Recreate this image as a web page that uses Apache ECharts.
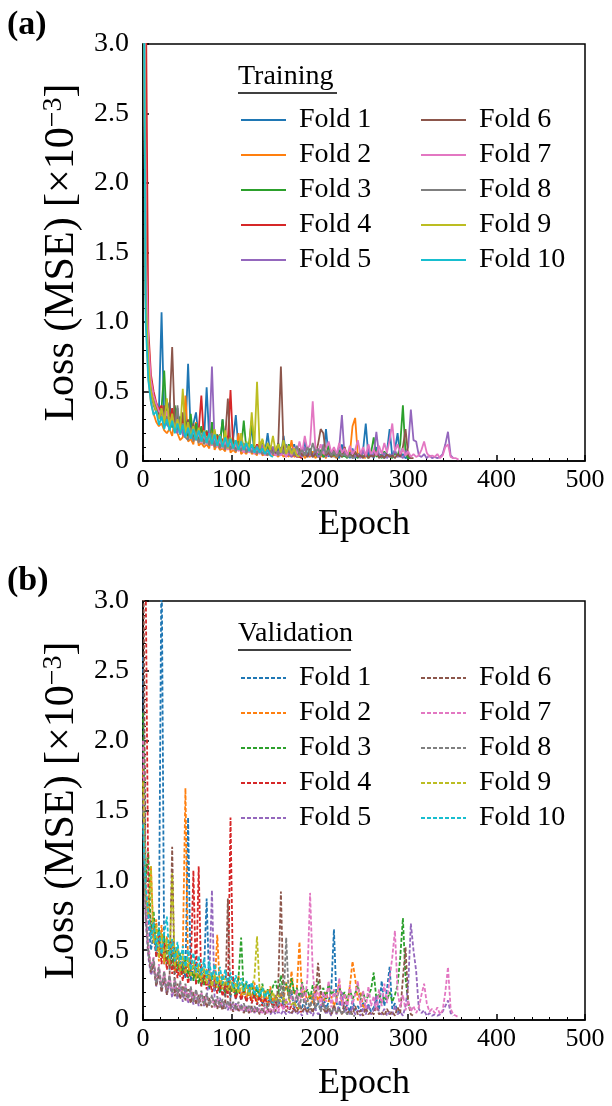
<!DOCTYPE html>
<html>
<head>
<meta charset="utf-8">
<script src="https://cdn.jsdelivr.net/npm/echarts@6.0.0/dist/echarts.min.js"></script>
<style>
html,body{margin:0;padding:0;background:#fff;}
#chart{width:612px;height:1106px;}
</style>
</head>
<body>
<div id="chart"></div>
<script>
// ---- data (loss values sampled every EPOCH_STEP epochs, x10^-3) ----
const EPOCH_STEP = 3;
const foldNames = ['Fold 1','Fold 2','Fold 3','Fold 4','Fold 5','Fold 6','Fold 7','Fold 8','Fold 9','Fold 10'];
const xTicks = [0, 100, 200, 300, 400, 500];
const yTicks = [0, 0.5, 1.0, 1.5, 2.0, 2.5, 3.0];

const train1 = [5.0,1.3,0.75,0.55,0.45,0.40,0.36,1.07,0.30,0.36,0.42,0.26,0.33,0.38,0.20,0.31,0.19,0.70,0.20,0.27,0.35,0.15,0.24,0.14,0.53,0.15,0.22,0.13,0.19,0.12,0.30,0.11,0.17,0.10,0.16,0.33,0.09,0.14,0.08,0.12,0.07,0.25,0.07,0.11,0.06,0.15,0.06,0.20,0.05,0.10,0.05,0.09,0.04,0.18,0.04,0.07,0.04,0.12,0.04,0.06,0.03,0.15,0.03,0.06,0.03,0.10,0.03,0.05,0.03,0.23,0.03,0.07,0.03,0.05,0.02,0.12,0.03,0.06,0.02,0.09,0.02,0.05,0.03,0.08,0.27,0.03,0.06,0.02,0.10,0.03,0.05,0.02,0.07,0.23,0.03,0.08,0.20,0.03,0.05,0.02,0.03];
const train2 = [4.5,1.1,0.6,0.42,0.34,0.28,0.25,0.27,0.22,0.20,0.23,0.18,0.32,0.20,0.15,0.17,0.47,0.14,0.16,0.12,0.28,0.11,0.13,0.10,0.12,0.09,0.24,0.08,0.12,0.08,0.09,0.07,0.18,0.06,0.08,0.06,0.20,0.05,0.07,0.05,0.11,0.05,0.06,0.04,0.14,0.04,0.05,0.04,0.08,0.04,0.05,0.03,0.06,0.03,0.05,0.03,0.15,0.03,0.04,0.03,0.06,0.02,0.04,0.03,0.07,0.02,0.04,0.03,0.05,0.02,0.08,0.03,0.04,0.02,0.06,0.03,0.10,0.03,0.05,0.25,0.31,0.04,0.06,0.03,0.02];
const train3 = [5.5,1.4,0.8,0.56,0.46,0.40,0.35,0.38,0.65,0.26,0.36,0.24,0.40,0.22,0.32,0.20,0.29,0.18,0.34,0.16,0.27,0.15,0.25,0.14,0.22,0.13,0.28,0.12,0.19,0.11,0.30,0.10,0.18,0.09,0.16,0.08,0.14,0.09,0.29,0.08,0.13,0.29,0.07,0.12,0.06,0.15,0.06,0.11,0.05,0.10,0.05,0.13,0.05,0.08,0.04,0.12,0.04,0.07,0.04,0.09,0.03,0.06,0.04,0.09,0.03,0.05,0.03,0.08,0.03,0.04,0.11,0.03,0.05,0.03,0.08,0.03,0.04,0.02,0.06,0.03,0.05,0.02,0.07,0.03,0.04,0.02,0.06,0.17,0.03,0.05,0.02,0.07,0.03,0.04,0.02,0.06,0.03,0.12,0.40,0.05,0.02,0.02];
const train4 = [6.0,3.6,0.95,0.62,0.50,0.42,0.37,0.40,0.30,0.36,0.27,0.38,0.24,0.32,0.21,0.30,0.19,0.26,0.18,0.25,0.16,0.22,0.47,0.15,0.21,0.13,0.20,0.12,0.18,0.11,0.16,0.10,0.15,0.51,0.10,0.14,0.09,0.13,0.08,0.11,0.07,0.10,0.06,0.12,0.06,0.09,0.05,0.08,0.05,0.10,0.04,0.07,0.04,0.08,0.03,0.06,0.03,0.05,0.03,0.03,0.02];
const train5 = [4.8,1.2,0.7,0.5,0.42,0.37,0.33,0.30,0.38,0.26,0.24,0.33,0.22,0.20,0.30,0.19,0.17,0.28,0.16,0.25,0.15,0.23,0.14,0.20,0.13,0.18,0.68,0.13,0.11,0.19,0.10,0.16,0.09,0.15,0.09,0.13,0.08,0.17,0.07,0.12,0.07,0.10,0.06,0.11,0.06,0.12,0.05,0.08,0.05,0.10,0.04,0.07,0.04,0.09,0.04,0.05,0.03,0.07,0.03,0.05,0.03,0.10,0.03,0.05,0.03,0.08,0.03,0.04,0.12,0.03,0.05,0.03,0.07,0.03,0.10,0.33,0.04,0.06,0.03,0.08,0.03,0.05,0.02,0.07,0.03,0.09,0.03,0.05,0.21,0.04,0.03,0.06,0.02,0.05,0.03,0.08,0.03,0.04,0.02,0.06,0.10,0.37,0.15,0.14,0.04,0.03,0.05,0.02,0.04,0.02,0.03,0.02,0.03,0.05,0.12,0.21,0.04,0.02];
const train6 = [5.2,1.25,0.72,0.52,0.43,0.38,0.34,0.31,0.40,0.27,0.36,0.82,0.26,0.34,0.22,0.35,0.20,0.30,0.18,0.27,0.16,0.24,0.15,0.22,0.14,0.20,0.13,0.21,0.12,0.19,0.11,0.17,0.45,0.10,0.15,0.09,0.13,0.08,0.11,0.07,0.12,0.07,0.09,0.06,0.10,0.05,0.08,0.05,0.11,0.05,0.06,0.12,0.68,0.10,0.05,0.08,0.04,0.06,0.04,0.09,0.04,0.05,0.03,0.08,0.03,0.05,0.12,0.23,0.20,0.04,0.06,0.03,0.08,0.03,0.05,0.03,0.10,0.03,0.05,0.03,0.07,0.03,0.04,0.02,0.06,0.02,0.04,0.03,0.07,0.02,0.04,0.02,0.05,0.03,0.04,0.02,0.05,0.03,0.10,0.23,0.04,0.02,0.02];
const train7 = [7.0,1.6,0.85,0.58,0.47,0.41,0.36,0.33,0.28,0.36,0.25,0.31,0.23,0.29,0.20,0.27,0.18,0.24,0.16,0.22,0.15,0.20,0.13,0.19,0.12,0.17,0.11,0.18,0.10,0.15,0.09,0.14,0.08,0.13,0.08,0.12,0.07,0.11,0.06,0.10,0.06,0.09,0.05,0.09,0.05,0.08,0.04,0.07,0.04,0.06,0.04,0.05,0.04,0.06,0.03,0.08,0.04,0.10,0.05,0.14,0.06,0.18,0.08,0.12,0.43,0.10,0.06,0.12,0.05,0.09,0.14,0.06,0.10,0.05,0.13,0.06,0.09,0.04,0.11,0.05,0.08,0.15,0.05,0.10,0.04,0.12,0.05,0.08,0.04,0.11,0.05,0.13,0.06,0.15,0.27,0.07,0.12,0.05,0.09,0.04,0.07,0.03,0.05,0.03,0.04,0.08,0.14,0.06,0.03,0.04,0.03,0.05,0.02,0.04,0.10,0.12,0.03,0.02,0.02,0.01];
const train8 = [4.6,1.15,0.66,0.48,0.40,0.35,0.31,0.36,0.26,0.32,0.23,0.30,0.21,0.40,0.19,0.27,0.17,0.15,0.24,0.14,0.21,0.13,0.19,0.12,0.17,0.11,0.20,0.10,0.15,0.09,0.14,0.08,0.16,0.08,0.12,0.07,0.11,0.07,0.13,0.06,0.10,0.06,0.09,0.05,0.10,0.05,0.07,0.04,0.09,0.05,0.08,0.04,0.10,0.05,0.12,0.06,0.09,0.04,0.11,0.05,0.08,0.04,0.10,0.05,0.13,0.06,0.09,0.04,0.11,0.05,0.08,0.04,0.07,0.03,0.06,0.04,0.05,0.03,0.04,0.02,0.03];
const train9 = [5.0,1.2,0.7,0.5,0.42,0.36,0.30,0.38,0.27,0.45,0.24,0.34,0.22,0.30,0.21,0.52,0.19,0.28,0.17,0.25,0.15,0.24,0.14,0.22,0.13,0.20,0.12,0.23,0.11,0.19,0.10,0.22,0.09,0.17,0.09,0.15,0.08,0.20,0.08,0.14,0.09,0.35,0.10,0.57,0.09,0.16,0.07,0.13,0.08,0.18,0.07,0.12,0.06,0.15,0.05,0.11,0.05,0.09,0.04,0.03];
const train10 = [4.8,1.0,0.58,0.42,0.33,0.36,0.26,0.32,0.23,0.30,0.22,0.29,0.20,0.27,0.19,0.26,0.17,0.24,0.16,0.23,0.15,0.22,0.14,0.21,0.13,0.20,0.12,0.19,0.11,0.18,0.10,0.17,0.10,0.16,0.09,0.15,0.08,0.14,0.08,0.13,0.07,0.12,0.06,0.10,0.06,0.09,0.05,0.08,0.04,0.03];

const val1 = [2.6,0.95,0.70,0.50,0.62,0.45,0.58,3.4,0.40,0.55,0.36,0.50,0.33,0.47,0.31,0.42,0.30,1.45,0.28,0.40,0.26,0.37,0.24,0.34,0.87,0.22,0.32,0.20,0.30,0.19,0.28,0.17,0.26,0.16,0.31,0.15,0.24,0.14,0.22,0.13,0.26,0.12,0.20,0.11,0.21,0.11,0.18,0.10,0.22,0.10,0.16,0.09,0.19,0.09,0.15,0.08,0.20,0.08,0.14,0.09,0.09,0.15,0.08,0.11,0.14,0.08,0.12,0.07,0.18,0.08,0.13,0.22,0.65,0.12,0.08,0.16,0.07,0.11,0.06,0.14,0.07,0.10,0.06,0.13,0.07,0.11,0.06,0.09,0.15,0.07,0.28,0.10,0.22,0.38,0.08,0.12,0.06,0.05];
const val2 = [1.8,0.9,0.75,1.10,0.55,0.72,0.42,0.68,0.40,0.60,0.37,0.58,0.34,0.52,0.32,0.48,1.66,0.33,0.45,0.30,0.42,0.27,0.40,0.25,0.37,0.23,0.34,0.22,0.61,0.21,0.33,0.19,0.30,0.18,0.28,0.17,0.32,0.16,0.26,0.15,0.24,0.14,0.27,0.13,0.23,0.13,0.21,0.12,0.24,0.13,0.18,0.13,0.20,0.14,0.27,0.15,0.35,0.18,0.22,0.56,0.16,0.21,0.13,0.19,0.12,0.24,0.14,0.18,0.11,0.20,0.13,0.17,0.10,0.15,0.28,0.12,0.19,0.11,0.24,0.42,0.30,0.14,0.20,0.10,0.08];
const val3 = [2.2,1.0,1.2,0.62,0.78,0.50,0.66,0.45,0.60,0.40,0.56,0.38,0.52,0.35,0.48,0.33,0.45,0.30,0.42,0.28,0.40,0.26,0.37,0.25,0.35,0.23,0.33,0.22,0.31,0.20,0.30,0.19,0.28,0.18,0.26,0.17,0.30,0.59,0.19,0.27,0.17,0.25,0.16,0.23,0.15,0.26,0.16,0.22,0.14,0.24,0.28,0.18,0.32,0.20,0.26,0.17,0.30,0.19,0.23,0.16,0.27,0.18,0.22,0.15,0.25,0.17,0.28,0.19,0.23,0.15,0.26,0.18,0.21,0.14,0.24,0.16,0.20,0.13,0.22,0.15,0.19,0.25,0.14,0.20,0.13,0.18,0.22,0.34,0.15,0.19,0.12,0.17,0.14,0.20,0.13,0.18,0.25,0.45,0.73,0.30,0.12,0.08];
const val4 = [4.5,3.2,0.9,0.58,0.70,0.45,0.62,0.40,0.55,0.36,0.50,0.33,0.47,0.30,0.42,0.28,0.40,0.26,0.36,1.07,0.25,1.10,0.24,0.33,0.22,0.31,0.20,0.29,0.19,0.27,0.17,0.26,0.16,1.45,0.22,0.15,0.23,0.14,0.20,0.13,0.19,0.12,0.18,0.11,0.17,0.10,0.16,0.10,0.15,0.09,0.13,0.09,0.12,0.08,0.11,0.07,0.10,0.07,0.09,0.06,0.06];
const val5 = [1.6,0.7,0.45,0.32,0.38,0.24,0.33,0.20,0.30,0.18,0.27,0.16,0.26,0.15,0.24,0.13,0.22,0.12,0.21,0.11,0.19,0.10,0.18,0.10,0.17,0.30,0.93,0.15,0.09,0.16,0.08,0.14,0.07,0.13,0.07,0.12,0.06,0.11,0.06,0.10,0.05,0.10,0.05,0.09,0.05,0.08,0.04,0.08,0.04,0.07,0.04,0.06,0.04,0.07,0.04,0.06,0.04,0.08,0.04,0.06,0.03,0.10,0.04,0.06,0.03,0.08,0.04,0.06,0.13,0.04,0.07,0.03,0.09,0.04,0.12,0.20,0.05,0.08,0.04,0.10,0.04,0.07,0.03,0.09,0.04,0.11,0.04,0.07,0.18,0.05,0.04,0.08,0.03,0.06,0.04,0.10,0.04,0.06,0.03,0.10,0.25,0.69,0.50,0.35,0.08,0.05,0.07,0.03,0.05,0.03,0.04,0.03,0.04,0.06,0.10,0.14,0.05,0.03];
const val6 = [3.8,0.8,0.5,0.34,0.40,0.24,0.35,0.20,0.31,0.18,0.29,1.24,0.17,0.26,0.15,0.24,0.14,0.22,0.12,0.20,0.11,0.18,0.10,0.17,0.09,0.16,0.09,0.14,0.08,0.13,0.07,0.12,0.87,0.10,0.06,0.11,0.06,0.10,0.05,0.09,0.05,0.10,0.05,0.08,0.04,0.09,0.04,0.08,0.05,0.10,0.06,0.25,0.92,0.15,0.06,0.09,0.05,0.08,0.05,0.12,0.06,0.09,0.05,0.11,0.05,0.14,0.41,0.20,0.08,0.05,0.09,0.04,0.11,0.05,0.08,0.04,0.13,0.05,0.07,0.04,0.10,0.04,0.07,0.03,0.09,0.04,0.06,0.04,0.10,0.04,0.06,0.03,0.08,0.04,0.06,0.03,0.09,0.05,0.30,0.52,0.12,0.04,0.03];
const val7 = [2.0,0.85,0.55,0.38,0.45,0.28,0.40,0.24,0.35,0.21,0.32,0.19,0.29,0.17,0.27,0.16,0.25,0.14,0.23,0.13,0.21,0.12,0.20,0.11,0.18,0.10,0.17,0.09,0.16,0.09,0.14,0.08,0.13,0.07,0.12,0.07,0.11,0.06,0.10,0.06,0.09,0.05,0.09,0.05,0.08,0.05,0.09,0.05,0.08,0.06,0.10,0.06,0.12,0.07,0.15,0.08,0.18,0.09,0.22,0.10,0.26,0.12,0.30,0.91,0.35,0.14,0.25,0.10,0.20,0.13,0.28,0.09,0.22,0.12,0.30,0.10,0.19,0.08,0.25,0.11,0.18,0.28,0.09,0.21,0.08,0.24,0.10,0.17,0.07,0.22,0.10,0.26,0.12,0.30,0.45,0.64,0.20,0.09,0.18,0.07,0.14,0.06,0.10,0.05,0.09,0.18,0.26,0.12,0.06,0.08,0.05,0.09,0.04,0.07,0.20,0.38,0.08,0.04,0.03,0.02];
const val8 = [1.5,0.75,0.5,0.36,0.44,0.26,0.38,0.23,0.35,0.21,0.32,0.19,0.30,0.17,0.28,0.16,0.26,0.15,0.24,0.13,0.22,0.12,0.21,0.11,0.19,0.10,0.18,0.10,0.17,0.09,0.15,0.08,0.14,0.08,0.13,0.07,0.13,0.07,0.12,0.06,0.11,0.06,0.10,0.06,0.11,0.07,0.12,0.08,0.14,0.09,0.18,0.10,0.25,0.12,0.59,0.15,0.22,0.10,0.18,0.08,0.20,0.09,0.16,0.07,0.19,0.08,0.14,0.06,0.12,0.07,0.10,0.05,0.09,0.05,0.08,0.04,0.07,0.04,0.06,0.03,0.03];
const val9 = [1.7,0.9,0.75,1.10,0.55,0.68,0.45,0.62,0.42,0.58,0.40,1.05,0.38,0.52,0.35,0.48,0.33,0.45,0.31,0.42,0.29,0.40,0.27,0.37,0.26,0.35,0.24,0.33,0.23,0.31,0.22,0.30,0.21,0.28,0.20,0.27,0.19,0.26,0.18,0.25,0.17,0.24,0.30,0.60,0.20,0.24,0.16,0.22,0.15,0.20,0.14,0.18,0.13,0.16,0.12,0.15,0.11,0.13,0.09,0.08];
const val10 = [1.4,0.95,0.78,0.58,0.70,0.50,0.66,0.47,0.62,0.74,0.44,0.58,0.42,0.56,0.40,0.53,0.38,0.50,0.36,0.48,0.34,0.46,0.32,0.44,0.30,0.42,0.29,0.40,0.27,0.38,0.26,0.36,0.25,0.34,0.23,0.32,0.22,0.30,0.21,0.28,0.20,0.27,0.18,0.25,0.17,0.23,0.16,0.21,0.14,0.12];

const trainData = [train1,train2,train3,train4,train5,train6,train7,train8,train9,train10];
const valData = [val1,val2,val3,val4,val5,val6,val7,val8,val9,val10];
const colors = ['#1f77b4','#ff7f0e','#2ca02c','#d62728','#9467bd','#8c564b','#e377c2','#7f7f7f','#bcbd22','#17becf'];

// ---- chart ----
const FONT = '"Liberation Serif", "Times New Roman", serif';
const toPairs = arr => arr.map((v, i) => [i * EPOCH_STEP, v]);

function makeX(gi) {
  return {
    type: 'value', gridIndex: gi, min: xTicks[0], max: xTicks[xTicks.length - 1], interval: 100,
    name: 'Epoch', nameLocation: 'middle', nameGap: 46,
    nameTextStyle: { fontFamily: FONT, fontSize: 36, color: '#000' },
    axisLine: { show: true, lineStyle: { color: '#000', width: 1.5 } },
    axisTick: { show: true, inside: true, length: 6, lineStyle: { color: '#000', width: 1.5 } },
    minorTick: { show: true, splitNumber: 5, length: 3, lineStyle: { color: '#000', width: 1 } },
    splitLine: { show: false },
    axisLabel: { fontFamily: FONT, fontSize: 26, color: '#000', margin: 6 }
  };
}
function makeY(gi) {
  return {
    type: 'value', gridIndex: gi, min: yTicks[0], max: yTicks[yTicks.length - 1], interval: 0.5,
    name: '{n|Loss (MSE) [×10}{s|−3}{n|]}', nameLocation: 'middle', nameGap: 58,
    nameTextStyle: { fontFamily: FONT, color: '#000',
      rich: { n: { fontFamily: FONT, fontSize: 42, color: '#000' },
              s: { fontFamily: FONT, fontSize: 28, color: '#000', verticalAlign: 'top', padding: [0, 0, 16, 0] } } },
    axisLine: { show: true, lineStyle: { color: '#000', width: 1.5 } },
    axisTick: { show: true, inside: true, length: 6, lineStyle: { color: '#000', width: 1.5 } },
    minorTick: { show: true, splitNumber: 5, length: 3, lineStyle: { color: '#000', width: 1 } },
    splitLine: { show: false },
    axisLabel: { fontFamily: FONT, fontSize: 28, color: '#000', margin: 14,
      formatter: v => v === 0 ? '0' : v.toFixed(1) }
  };
}

const series = [];
trainData.forEach((d, i) => series.push({
  name: 't' + (i + 1), type: 'line', xAxisIndex: 0, yAxisIndex: 0, data: toPairs(d),
  symbol: 'none', clip: true, color: colors[i],
  lineStyle: { width: 1.8, color: colors[i] }
}));
valData.forEach((d, i) => series.push({
  name: 'v' + (i + 1), type: 'line', xAxisIndex: 1, yAxisIndex: 1, data: toPairs(d),
  symbol: 'none', clip: true, color: colors[i],
  lineStyle: { width: 1.8, color: colors[i], type: [4, 2] }
}));

function makeLegend(prefix, idxs, left, top) {
  return {
    orient: 'vertical', left: left, top: top, padding: 0,
    itemWidth: 45, itemHeight: 14, itemGap: 7,
    data: idxs.map(i => prefix + (i + 1)),
    formatter: name => foldNames[parseInt(name.slice(1), 10) - 1],
    textStyle: { fontFamily: FONT, fontSize: 28, color: '#000', lineHeight: 28, padding: [0, 0, 0, 8] },
    itemStyle: { opacity: 0 },
    lineStyle: { width: 2 },
    selectedMode: false
  };
}

const option = {
  animation: false,
  backgroundColor: '#fff',
  grid: [
    { left: 143, top: 44, width: 442, height: 417, show: true, borderColor: '#000', borderWidth: 1.5 },
    { left: 143, top: 601, width: 442, height: 419, show: true, borderColor: '#000', borderWidth: 1.5 }
  ],
  xAxis: [makeX(0), makeX(1)],
  yAxis: [makeY(0), makeY(1)],
  legend: [
    makeLegend('t', [0,1,2,3,4], 240, 106),
    makeLegend('t', [5,6,7,8,9], 420, 106),
    makeLegend('v', [0,1,2,3,4], 240, 664),
    makeLegend('v', [5,6,7,8,9], 420, 664)
  ],
  graphic: [
    { type: 'text', left: 7, top: 8, style: { text: '(a)', font: 'bold 34px ' + FONT, fill: '#000' } },
    { type: 'text', left: 7, top: 564, style: { text: '(b)', font: 'bold 34px ' + FONT, fill: '#000' } },
    { type: 'text', left: 238, top: 63, style: { text: 'Training', font: '28px ' + FONT, fill: '#000' } },
    { type: 'line', shape: { x1: 238, y1: 93, x2: 337, y2: 93 }, style: { stroke: '#000', lineWidth: 1.5 } },
    { type: 'text', left: 238, top: 620, style: { text: 'Validation', font: '28px ' + FONT, fill: '#000' } },
    { type: 'line', shape: { x1: 238, y1: 650, x2: 351, y2: 650 }, style: { stroke: '#000', lineWidth: 1.5 } }
  ],
  series: series
};

const chart = echarts.init(document.getElementById('chart'), null, { renderer: 'canvas' });
chart.setOption(option);
</script>
</body>
</html>
